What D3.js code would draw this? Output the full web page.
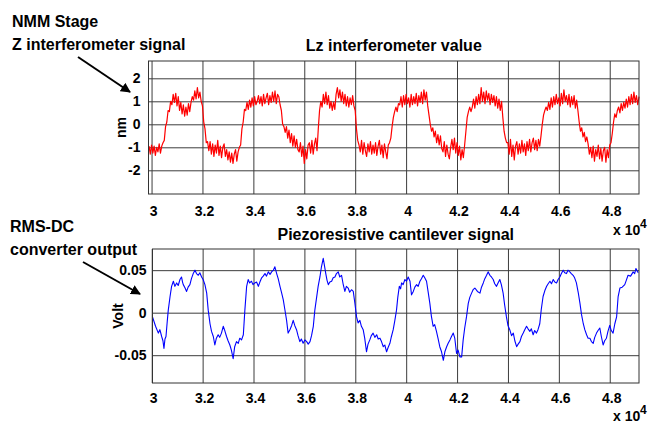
<!DOCTYPE html>
<html>
<head>
<meta charset="utf-8">
<script src="https://cdn.jsdelivr.net/npm/d3@7.9.0/dist/d3.min.js"></script>
<style>
  body { margin: 0; background: #fff; }
  svg { display: block; font-family: "Liberation Sans", Arial, sans-serif; font-weight: bold; }
</style>
</head>
<body>
<svg id="chart" width="650" height="423"></svg>
<script>
// x axis (in units of 1e4 samples)
const xTicks = [3, 3.2, 3.4, 3.6, 3.8, 4, 4.2, 4.4, 4.6, 4.8];
const xTickLabels = ['3', '3.2', '3.4', '3.6', '3.8', '4', '4.2', '4.4', '4.6', '4.8'];

const lzTicks = [2, 1, 0, -1, -2];
const lzTickLabels = ['2', '1', '0', '-1', '-2'];
const voltTicks = [0.05, 0, -0.05];
const voltTickLabels = ['0.05', '0', '-0.05'];

// Lz interferometer value (nm), one sample every 0.005e4 starting at 2.99e4
const lzStart = 2.99;
const lzStep = 0.005;
const lzValues = [
  -0.95,-1.3,-0.9,-1.25,-0.95,-1.35,-1.0,-1.2,-0.85,-1.25,-0.95,-0.8,
  -0.7,-0.1,0.1,0.6,0.55,1.0,0.85,1.3,0.95,
  1.35,0.8,1.2,0.6,0.95,0.45,0.85,0.35,0.75,0.4,0.9,0.55,
  0.95,1.2,1.05,1.45,1.1,1.6,1.15,1.4,1.0,
  0.8,0.1,-0.2,-0.8,-0.75,-1.15,
  -0.75,-1.3,-0.85,-1.4,-0.9,-1.25,-0.7,-1.35,-0.95,-1.45,-1.0,-0.85,-1.4,-1.1,-1.55,
  -1.2,-1.65,-1.25,-1.7,-1.3,-1.1,-1.6,-1.2,-1.0,
  -0.9,-0.2,0.1,0.65,0.6,0.95,
  0.65,1.05,0.75,1.15,0.8,1.2,0.85,1.0,1.25,0.9,1.2,0.8,1.3,0.9,1.15,1.35,0.85,1.25,0.95,1.4,1.0,1.45,0.9,1.3,1.2,0.85,
  0.6,0.0,-0.1,-0.35,
  -0.1,-0.6,-0.25,-0.8,-0.4,-0.95,-0.5,-1.0,-0.65,-1.1,
  -1.2,-0.8,-1.4,-0.95,-1.7,-1.1,-1.5,-0.9,
  -0.8,-1.25,-0.7,-1.3,-0.85,-0.6,-1.15,
  -0.2,0.6,1.0,
  0.75,1.3,0.9,1.4,0.85,1.25,0.7,
  1.0,0.6,0.95,0.65,
  1.3,1.6,1.15,1.5,1.0,1.4,
  0.9,1.3,0.8,1.2,0.75,1.15,0.85,1.25,0.8,0.6,
  -0.2,-0.7,-0.9,
  -1.2,-0.7,-1.3,-0.8,-1.15,-1.4,-0.85,-1.2,-0.75,-1.3,-0.9,-1.25,-0.8,-1.35,-0.95,-0.7,-1.3,-0.9,-1.45,-0.85,-1.2,-1.5,-0.9,-0.8,
  -0.6,-0.1,0.3,0.55,0.75,0.55,0.9,
  0.85,1.2,0.75,1.25,0.85,1.3,0.9,1.15,0.75,1.3,0.85,1.2,0.9,1.35,0.8,1.25,0.95,1.4,0.9,1.5,1.05,1.4,
  0.8,0.4,0.0,-0.3,-0.15,-0.55,
  -0.3,-0.8,-0.45,-0.9,-0.5,-1.05,-1.2,-0.75,-1.4,-0.9,-1.3,-1.5,-1.0,-0.65,-1.1,-0.6,-1.25,-0.8,-1.35,-0.95,-1.55,-1.1,-1.45,-0.9,
  -0.3,0.3,0.55,0.75,0.55,
  0.75,1.1,0.7,1.2,0.85,1.3,0.9,1.6,1.0,1.4,0.9,1.45,1.05,1.35,0.85,1.3,0.95,1.25,0.8,1.2,0.7,1.1,0.6,1.0,
  0.3,-0.3,-0.6,-0.8,
  -0.8,-1.3,-0.65,-1.4,-0.9,-1.55,-0.95,-0.75,-1.3,-0.85,-1.25,-0.7,-1.2,-0.85,-1.35,-0.75,-1.15,-0.65,-1.2,-0.8,-0.6,-1.1,-0.7,-1.15,-0.65,-0.95,
  -0.5,0.0,0.4,0.6,0.75,0.6,
  0.95,0.65,1.15,0.75,1.2,0.85,1.3,0.9,1.15,0.8,1.35,0.9,1.5,1.0,1.25,0.85,1.3,0.75,1.2,0.85,1.25,0.7,1.05,
  0.6,0.1,-0.3,-0.15,-0.55,-0.35,-0.75,-0.55,
  -0.85,-1.3,-1.0,-1.45,-0.95,-1.6,-1.1,-1.4,-0.9,-1.5,-1.05,-1.6,-1.15,-1.0,-1.65,-1.1,-1.45,-0.9,
  -0.8,-0.4,0.1,0.45,0.3,0.6,
  0.75,0.5,0.9,0.6,0.95,0.7,1.1,0.75,1.2,0.85,1.3,0.9,1.4,0.95,1.25,0.85,1.2
];

// Piezoresistive cantilever signal (Volt)
const piezoX = [
  3.003,3.015,3.026,3.032,3.039,3.044,3.048,3.052,3.056,3.061,3.065,3.072,3.078,3.085,3.091,3.098,3.104,
  3.111,3.117,3.121,3.124,3.131,3.137,3.143,3.150,3.156,3.163,3.170,3.176,3.183,3.189,3.196,3.202,3.209,
  3.216,3.222,3.229,3.235,3.242,3.248,3.254,3.261,3.267,3.274,3.281,3.287,3.294,3.300,3.307,3.313,
  3.320,3.326,3.333,3.340,3.346,3.353,3.360,3.366,3.373,3.379,3.385,3.392,3.398,3.405,3.412,3.419,3.425,
  3.432,3.438,3.445,3.451,3.458,3.465,3.471,3.478,3.484,3.491,3.497,3.504,3.510,3.517,3.523,3.530,3.536,3.543,
  3.550,3.556,3.562,3.569,3.575,3.582,3.588,3.595,3.602,3.609,3.615,3.622,3.628,3.635,3.641,3.648,3.654,
  3.661,3.667,3.674,3.679,3.684,3.689,3.694,3.700,3.707,3.713,3.720,3.726,3.733,3.739,3.746,3.752,3.759,3.765,
  3.772,3.778,3.785,3.792,3.798,3.805,3.811,3.818,3.824,3.831,3.837,3.844,3.850,3.857,3.863,3.870,3.877,3.884,3.890,
  3.897,3.903,3.910,3.916,3.923,3.929,3.936,3.942,3.949,3.955,3.962,3.967,3.973,3.978,3.982,3.988,3.995,4.001,4.008,
  4.015,4.021,4.028,4.034,4.041,4.047,4.054,4.060,4.067,4.073,4.080,4.086,4.093,4.099,4.106,4.112,4.119,4.125,
  4.132,4.139,4.146,4.152,4.159,4.165,4.172,4.178,4.185,4.191,4.198,4.204,4.211,4.218,4.224,4.230,
  4.237,4.244,4.250,4.257,4.263,4.270,4.280,4.290,4.296,4.303,4.309,4.316,4.322,4.329,4.335,4.342,4.348,4.355,4.361,
  4.368,4.374,4.381,4.387,4.394,4.400,4.407,4.414,4.421,4.427,4.434,4.440,4.447,4.453,4.460,4.466,4.473,4.479,4.486,
  4.492,4.499,4.505,4.512,4.518,4.525,4.531,4.538,4.545,4.552,4.558,4.565,4.571,4.578,4.584,4.591,4.597,4.604,4.610,4.617,
  4.623,4.630,4.636,4.643,4.649,4.656,4.662,4.669,4.676,4.683,4.689,4.696,4.702,4.709,4.715,4.722,4.728,4.735,4.741,4.748,
  4.754,4.761,4.767,4.774,4.780,4.787,4.793,4.800,4.806,4.813,4.820,4.827,4.833,4.840,4.849,4.859,4.865,4.872,4.882,4.892,4.898,4.903,4.908,4.912
];
const piezoValues = [
  -0.005,-0.016,-0.024,-0.020,-0.028,-0.033,-0.042,-0.031,-0.028,-0.010,0.003,0.019,0.031,0.037,0.031,0.035,0.032,
  0.039,0.042,0.036,0.033,0.029,0.025,0.030,0.033,0.040,0.046,0.050,0.046,0.044,0.047,0.042,0.039,0.033,
  0.023,0.003,-0.013,-0.022,-0.028,-0.038,-0.030,-0.026,-0.029,-0.024,-0.016,-0.021,-0.028,-0.033,-0.038,-0.044,
  -0.054,-0.040,-0.034,-0.036,-0.030,-0.032,-0.026,0.003,0.031,0.039,0.035,0.037,0.033,0.035,0.036,0.031,0.036,
  0.041,0.043,0.046,0.043,0.048,0.045,0.048,0.050,0.054,0.046,0.040,0.031,0.024,0.015,0.004,-0.009,-0.024,-0.020,
  -0.015,-0.009,-0.015,-0.020,-0.027,-0.034,-0.031,-0.036,-0.032,-0.034,-0.037,-0.034,-0.027,-0.016,0.003,0.018,0.031,
  0.042,0.054,0.064,0.055,0.046,0.038,0.033,0.036,0.037,0.041,0.042,0.046,0.048,0.042,0.044,0.034,0.025,0.031,
  0.029,0.024,0.027,0.025,0.012,-0.005,-0.012,-0.009,-0.016,-0.020,-0.030,-0.046,-0.037,-0.032,-0.027,-0.024,-0.029,-0.026,-0.031,
  -0.030,-0.034,-0.040,-0.038,-0.046,-0.041,-0.036,-0.028,-0.020,-0.010,0.003,0.018,0.031,0.028,0.035,0.033,0.039,0.037,0.042,
  0.037,0.021,0.025,0.030,0.033,0.031,0.037,0.040,0.044,0.041,0.037,0.025,0.011,-0.004,-0.016,-0.014,-0.022,-0.030,
  -0.040,-0.046,-0.056,-0.046,-0.040,-0.036,-0.032,-0.028,-0.024,-0.030,-0.048,-0.044,-0.052,-0.052,-0.032,-0.018,
  -0.005,0.011,0.018,0.023,0.027,0.029,0.025,0.023,0.030,0.035,0.040,0.044,0.048,0.044,0.042,0.039,0.034,0.031,0.035,
  0.039,0.033,0.023,0.009,-0.005,-0.015,-0.020,-0.027,-0.024,-0.033,-0.040,-0.037,-0.034,-0.028,-0.024,-0.020,-0.016,-0.019,-0.022,
  -0.019,-0.026,-0.021,-0.024,-0.020,-0.013,0.004,0.019,0.026,0.031,0.034,0.037,0.034,0.039,0.036,0.035,0.039,0.042,0.046,0.050,
  0.047,0.046,0.050,0.048,0.046,0.044,0.041,0.035,0.024,0.011,-0.002,-0.013,-0.020,-0.026,-0.030,-0.030,-0.034,-0.036,-0.029,-0.024,
  -0.021,-0.018,-0.028,-0.038,-0.033,-0.030,-0.022,-0.015,-0.021,-0.024,-0.013,-0.005,0.019,0.029,0.030,0.033,0.038,0.044,0.043,0.048,0.046,0.052,0.049,0.047
];

const lzData = lzValues.map((v, i) => [lzStart + i * lzStep, v]);
const piezoData = piezoX.map((x, i) => [x, piezoValues[i]]);

const svg = d3.select('#chart');

svg.append('defs').append('marker')
  .attr('id', 'arrow')
  .attr('viewBox', '0 0 10 10')
  .attr('refX', 9).attr('refY', 5)
  .attr('markerWidth', 5).attr('markerHeight', 5)
  .attr('orient', 'auto')
  .append('path')
  .attr('d', 'M0,0 L10,5 L0,10 z')
  .attr('fill', '#000');

function drawPanel(p) {
  const x = d3.scaleLinear().domain(p.xDomain).range([p.left, p.right]);
  const y = d3.scaleLinear().domain(p.yDomain).range([p.bottom, p.top]);
  const w = p.right - p.left;
  const h = p.bottom - p.top;
  const g = svg.append('g');

  // vertical grid + x tick labels
  g.append('g')
    .attr('transform', `translate(0,${p.bottom})`)
    .call(d3.axisBottom(x).tickValues(xTicks).tickFormat((d, i) => xTickLabels[i])
      .tickSize(-h).tickPadding(p.xPad))
    .call(ax => {
      ax.attr('font-family', null).attr('font-size', 14);
      ax.select('.domain').remove();
      ax.selectAll('line').attr('stroke', '#3c3c3c');
      ax.selectAll('text').attr('dx', 1.5);
    });

  // horizontal grid + y tick labels
  g.append('g')
    .attr('transform', `translate(${p.left},0)`)
    .call(d3.axisLeft(y).tickValues(p.yTicks).tickFormat((d, i) => p.yTickLabels[i])
      .tickSize(-w).tickPadding(p.yPad))
    .call(ax => {
      ax.attr('font-family', null).attr('font-size', 14);
      ax.select('.domain').remove();
      ax.selectAll('line').attr('stroke', '#3c3c3c');
    });

  g.append('path')
    .datum(p.data)
    .attr('fill', 'none')
    .attr('stroke', p.color)
    .attr('stroke-width', p.lineWidth)
    .attr('stroke-linejoin', 'round')
    .attr('d', d3.line().defined(d => d[1] != null).x(d => x(d[0])).y(d => y(d[1])));

  g.append('rect')
    .attr('x', p.left).attr('y', p.top)
    .attr('width', w).attr('height', h)
    .attr('fill', 'none').attr('stroke', '#333').attr('stroke-width', 1);

  g.append('text')
    .attr('x', (p.left + p.right) / 2).attr('y', p.titleY)
    .attr('text-anchor', 'middle').attr('font-size', 16)
    .text(p.title);

  g.append('text')
    .attr('transform', `translate(${p.ylabelX},${(p.top + p.bottom) / 2}) rotate(-90)`)
    .attr('text-anchor', 'middle').attr('font-size', 14)
    .text(p.ylabel);

  // exponent label
  g.append('text').attr('x', 613).attr('y', p.expY).attr('font-size', 14).text('x 10');
  g.append('text').attr('x', 640).attr('y', p.expY - 7).attr('font-size', 12).text('4');
}

drawPanel({
  left: 148.5, right: 639, top: 61, bottom: 194,
  xDomain: [2.988, 4.915], yDomain: [-3.03, 2.752],
  yTicks: lzTicks, yTickLabels: lzTickLabels,
  xPad: 12, yPad: 8,
  data: lzData, color: '#ff0000', lineWidth: 1.2,
  title: 'Lz interferometer value', titleY: 51,
  ylabel: 'nm', ylabelX: 126, expY: 235
});

drawPanel({
  left: 152.5, right: 639, top: 249, bottom: 383,
  xDomain: [3.003, 4.915], yDomain: [-0.0827, 0.0749],
  yTicks: voltTicks, yTickLabels: voltTickLabels,
  xPad: 10, yPad: 6,
  data: piezoData, color: '#0000ff', lineWidth: 1.1,
  title: 'Piezoresistive cantilever signal', titleY: 240,
  ylabel: 'Volt', ylabelX: 123, expY: 421
});

// annotations on the left
const notes = svg.append('g').attr('font-size', 16);
notes.append('text').attr('x', 12).attr('y', 27).text('NMM Stage');
notes.append('text').attr('x', 12).attr('y', 50).text('Z interferometer signal');
notes.append('text').attr('x', 10).attr('y', 232).text('RMS-DC');
notes.append('text').attr('x', 10).attr('y', 255).text('converter output');

notes.append('line').attr('x1', 78).attr('y1', 57).attr('x2', 130).attr('y2', 92)
  .attr('stroke', '#000').attr('stroke-width', 2).attr('marker-end', 'url(#arrow)');
notes.append('line').attr('x1', 83).attr('y1', 262).attr('x2', 140).attr('y2', 294)
  .attr('stroke', '#000').attr('stroke-width', 2).attr('marker-end', 'url(#arrow)');
</script>
</body>
</html>
